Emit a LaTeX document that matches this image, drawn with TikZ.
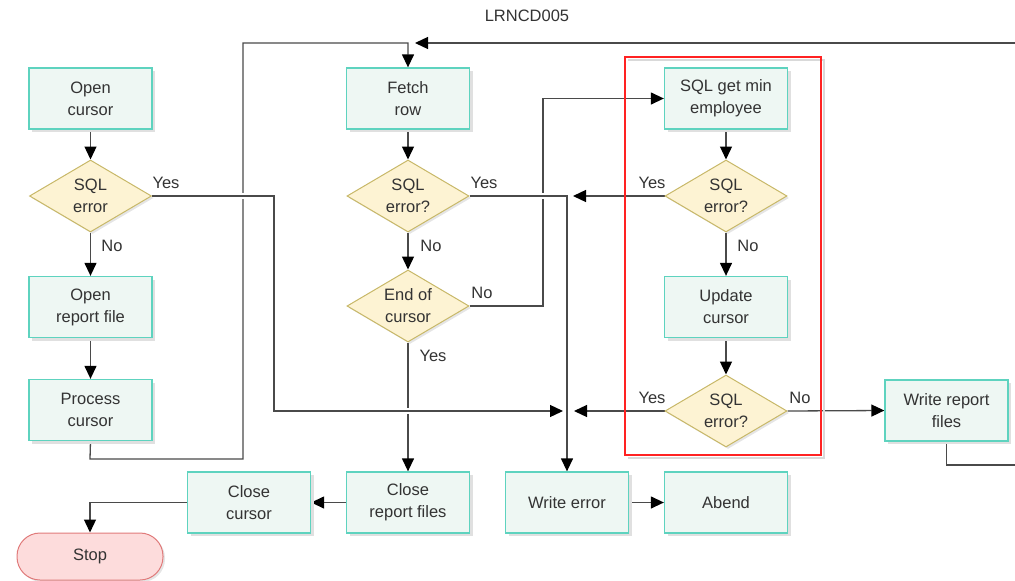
\documentclass[tikz,border=0pt]{standalone}
\usepackage{fontspec}
\setmainfont{Liberation Sans}
\usetikzlibrary{shapes.geometric,arrows.meta,shadows,backgrounds}

\definecolor{boxfill}{HTML}{EEF7F3}
\definecolor{boxline}{HTML}{5ED3BF}
\definecolor{dmfill}{HTML}{FDF3D3}
\definecolor{dmline}{HTML}{C8B868}
\definecolor{ink}{HTML}{333333}
\definecolor{wirecol}{HTML}{4A4A4A}
\definecolor{stopfill}{HTML}{FDDCDC}
\definecolor{stopline}{HTML}{E07A7A}
\definecolor{framecol}{HTML}{FF2222}

\tikzset{
  txt/.style={font=\fontsize{16.5}{22}\selectfont, text=ink},
  procbox/.style={txt, rectangle, draw=boxline, fill=boxfill, line width=1.3pt,
    minimum width=123pt, minimum height=61pt, inner sep=0pt, align=center,
    general shadow={shadow xshift=3pt, shadow yshift=-3pt, fill=black!12}},
  decision/.style={txt, diamond, draw=dmline, fill=dmfill, line width=1pt,
    minimum width=122pt, minimum height=72pt, inner sep=0pt, aspect=1.7, align=center,
    general shadow={shadow xshift=2pt, shadow yshift=-2pt, fill=black!10}},
  terminal/.style={txt, rectangle, rounded corners=23pt, draw=stopline, fill=stopfill,
    line width=1pt, minimum width=146pt, minimum height=47pt, inner sep=0pt,
    general shadow={shadow xshift=2pt, shadow yshift=-2pt, fill=black!10}},
  lbl/.style={txt, inner sep=0pt},
  wire/.style={draw=wirecol, line width=1.3pt},
  flow/.style={wire, -{Triangle[length=13pt,width=12pt,color=black]}},
  bridge/.style={preaction={draw=white, line width=6pt, -}},
}

\begin{document}
\begin{tikzpicture}[x=1pt, y=-1pt]
\useasboundingbox (0,0) rectangle (1015,581);

% title
\node[lbl] (title) at (527,16) {LRNCD005};

% frame around the update block
\draw[black!15, line width=2pt] (628,60) -- (824,60) -- (824,458) -- (628,458);
\draw[framecol, line width=2pt] (625,57) rectangle (821,455);

% left column
\node[procbox] (opencur) at (90.5,98.5) {Open\\cursor};
\node[decision] (sqlerr1) at (90.5,196) {SQL\\error};
\node[procbox] (openrep) at (90.5,307) {Open\\report file};
\node[procbox] (proccur) at (90.5,410) {Process\\cursor};
\node[terminal] (stop) at (90,556.5) {Stop};
\node[procbox] (closecur) at (249,502.5) {Close\\cursor};

% middle column
\node[procbox] (fetch) at (408,98.5) {Fetch\\row};
\node[decision] (sqlerr2) at (408,196) {SQL\\error?};
\node[decision] (eoc) at (408,306) {End of\\cursor};
\node[procbox] (closerep) at (408,502.5) {Close\\report files};
\node[procbox] (writeerr) at (567,502.5) {Write error};

% right column
\node[procbox] (getmin) at (726,98.5) {SQL get min\\employee};
\node[decision] (sqlerr3) at (726,196) {SQL\\error?};
\node[procbox] (update) at (726,307) {Update\\cursor};
\node[decision] (sqlerr4) at (726,411) {SQL\\error?};
\node[procbox] (abend) at (726,502.5) {Abend};
\node[procbox] (writerep) at (946.5,410.5) {Write report\\files};

% branch labels
\node[lbl] (y1) at (166,183) {Yes};
\node[lbl] (n1) at (112,246) {No};
\node[lbl] (y2) at (484,183) {Yes};
\node[lbl] (n2) at (431,246) {No};
\node[lbl] (n3) at (482,293) {No};
\node[lbl] (y3) at (433,356) {Yes};
\node[lbl] (y4) at (652,183) {Yes};
\node[lbl] (n4) at (748,246) {No};
\node[lbl] (y5) at (652,398) {Yes};
\node[lbl] (n5) at (800,398) {No};

% loose ends of connectors
\coordinate (errjoinA) at (563,411);
\coordinate (errjoinB) at (574,411);
\coordinate (errjoinC) at (573,196);
\coordinate (loopin) at (415,43);
\coordinate (edgeR) at (1015,43);
\coordinate (edgeB) at (1015,465);

\begin{pgfonlayer}{background}
  % vertical runs first, so that crossing runs can break them
  \draw[flow] (proccur.south) -- (90,459) -- (243,459) -- (243,43) -- (408,43) -- (fetch.north);
  \draw[flow] (eoc.south) -- (closerep.north);
  \draw[flow] (eoc.east) -- (543,306) -- (543,98.5) -- (getmin.west);

  \draw[flow] (edgeR) -- (loopin);
  \draw[wire] (writerep.south) -- (946.5,465) -- (edgeB);

  \draw[flow, bridge] (sqlerr1.east) -- (274,196) -- (274,411) -- (errjoinA);
  \draw[flow, bridge] (sqlerr2.east) -- (567,196) -- (writeerr.north);

  \draw[flow] (opencur.south) -- (sqlerr1.north);
  \draw[flow] (sqlerr1.south) -- (openrep.north);
  \draw[flow] (openrep.south) -- (proccur.north);
  \draw[flow] (fetch.south) -- (sqlerr2.north);
  \draw[flow] (sqlerr2.south) -- (eoc.north);
  \draw[flow] (getmin.south) -- (sqlerr3.north);
  \draw[flow] (sqlerr3.south) -- (update.north);
  \draw[flow] (update.south) -- (sqlerr4.north);
  \draw[flow] (sqlerr3.west) -- (errjoinC);
  \draw[flow] (sqlerr4.west) -- (errjoinB);
  \draw[flow] (sqlerr4.east) -- (writerep.west);
  \draw[flow] (closerep.west) -- (closecur.east);
  \draw[flow] (closecur.west) -- (90,502.5) -- (stop.north);
  \draw[flow] (writeerr.east) -- (abend.west);
\end{pgfonlayer}
\end{tikzpicture}
\end{document}
